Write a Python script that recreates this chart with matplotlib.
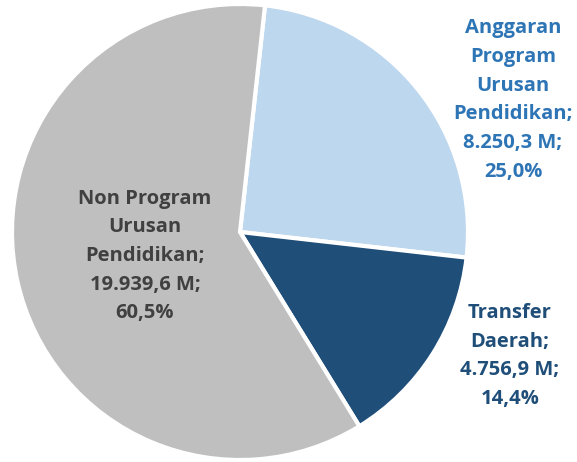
import matplotlib.pyplot as plt

# data
labels = ['Anggaran\nProgram\nUrusan\nPendidikan;\n8.250,3 M;\n25,0%',
          'Transfer\nDaerah;\n4.756,9 M;\n14,4%',
          'Non Program\nUrusan\nPendidikan;\n19.939,6 M;\n60,5%']
values = [8250.3, 4756.9, 19939.6]
colors = ['#BDD7EE', '#1F4E79', '#BFBFBF']
text_colors = ['#2E75B6', '#1F4E79', '#404040']
label_pos = [(513, 362), (510, 106), (145, 206)]

fig = plt.figure(figsize=(5.77, 4.62), dpi=100)
ax = fig.add_axes([0, 0, 1, 1])

ax.pie(values, colors=colors, startangle=83.7, counterclock=False,
       center=(240, 230), radius=228, frame=True,
       wedgeprops=dict(edgecolor='white', linewidth=3))

for lab, (x, y), c in zip(labels, label_pos, text_colors):
    ax.text(x, y, lab, ha='center', va='center', color=c, fontsize=14.5,
            fontweight='bold', family='Open Sans', linespacing=1.58)

ax.set_xlim(0, 577)
ax.set_ylim(0, 462)
ax.set_aspect('equal')
ax.axis('off')

fig.savefig('out.png', dpi=100)
